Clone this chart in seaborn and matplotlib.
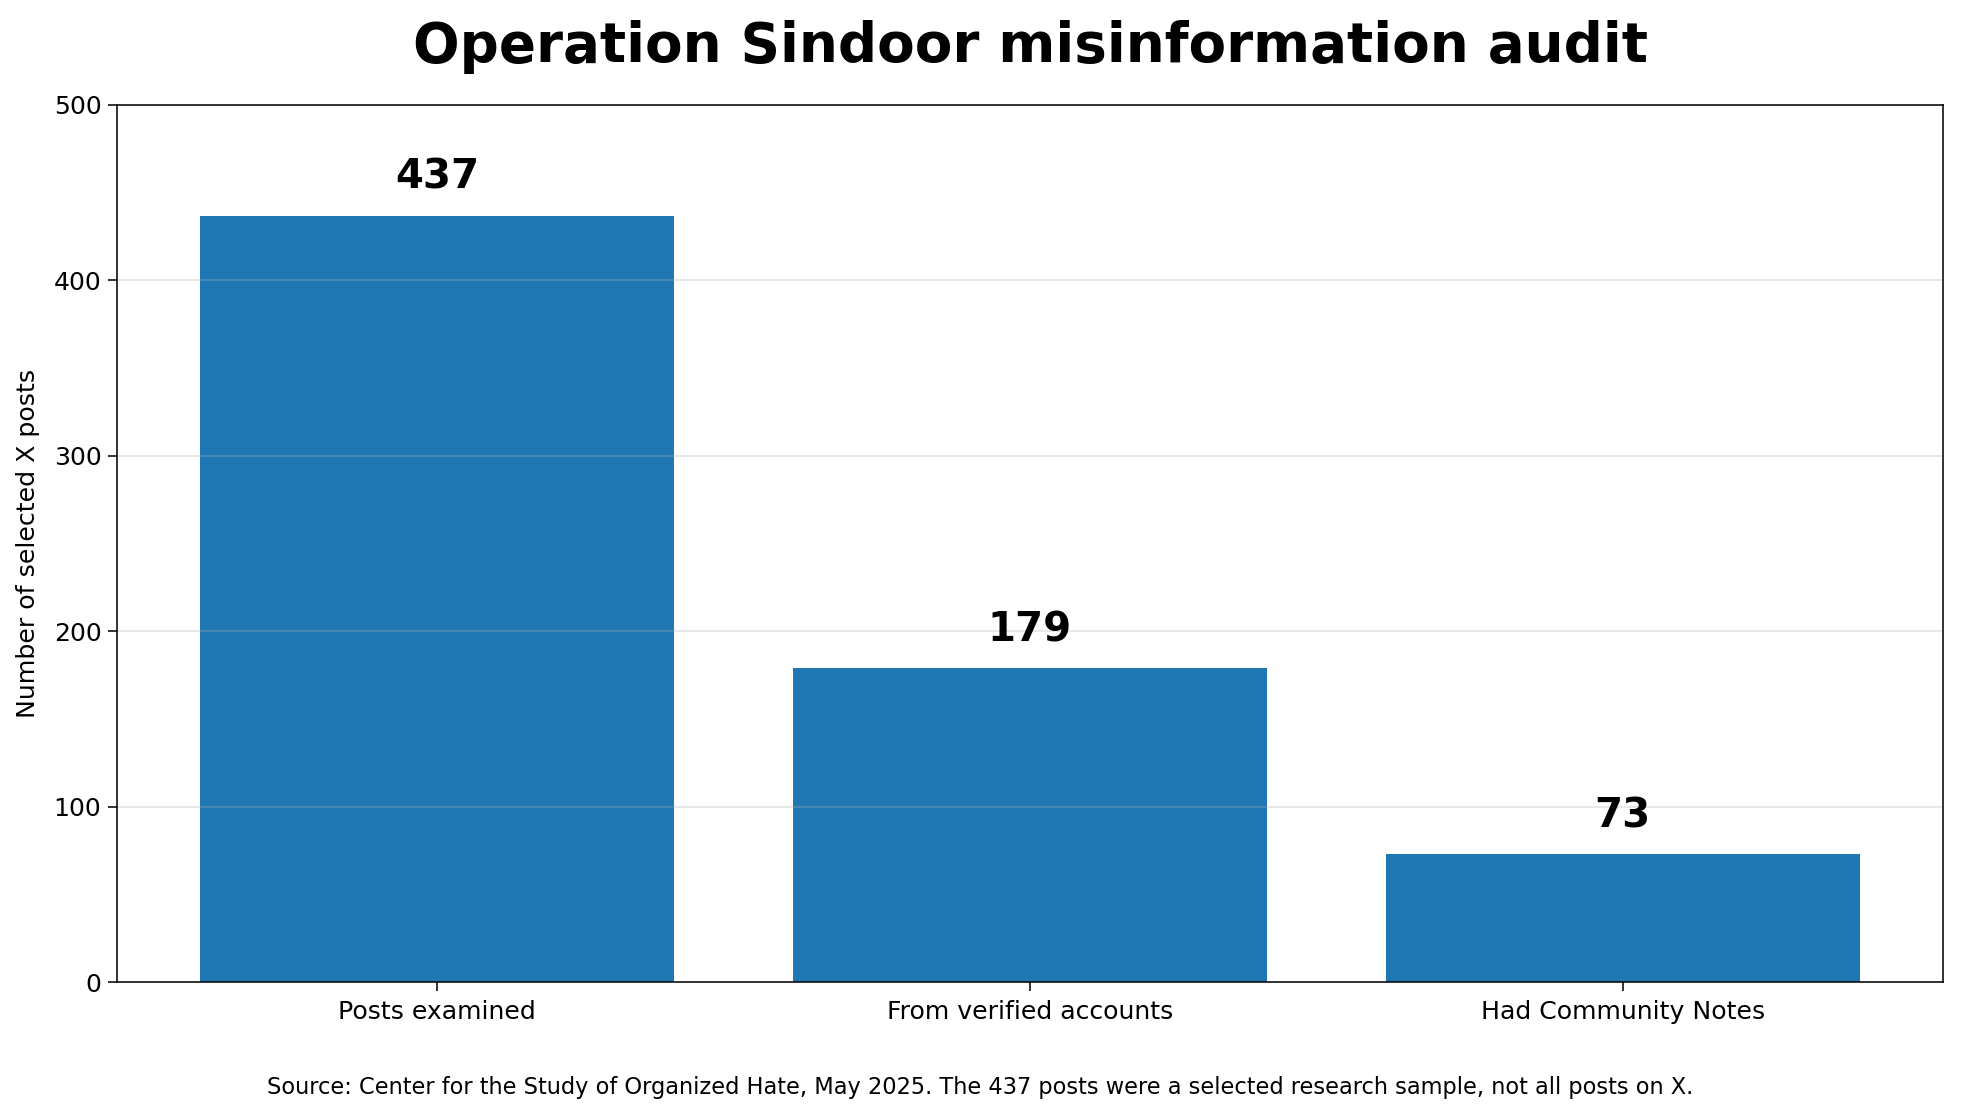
import matplotlib
matplotlib.use("Agg")
import matplotlib.pyplot as plt
import numpy as np
import pandas as pd
import seaborn as sns

categories = ["Posts examined", "From verified accounts", "Had Community Notes"]
post_counts = [437, 179, 73]
y_ticks = [0, 100, 200, 300, 400, 500]

title = "Operation Sindoor misinformation audit"
y_label = "Number of selected X posts"
source_note = ("Source: Center for the Study of Organized Hate, May 2025. "
               "The 437 posts were a selected research sample, not all posts on X.")

df = pd.DataFrame({"category": categories, "posts": post_counts})

fig = plt.figure(figsize=(1961 / 140, 1119 / 140), dpi=140)
ax = fig.add_axes([117 / 1961, 1 - 982 / 1119, (1943 - 117) / 1961, (982 - 105) / 1119])

sns.barplot(data=df, x="category", y="posts", color="#1f77b4", saturation=1,
            width=0.8, ax=ax)

# value labels above the bars
for i, v in enumerate(post_counts):
    ax.text(i, v + 10, str(v), ha="center", va="bottom",
            fontsize=20.7, fontweight="bold")

ax.set_xlim(-0.54, 2.54)
ax.set_ylim(0, 500)
ax.set_yticks(y_ticks)
ax.grid(axis="y", color="#b0b0b0", alpha=0.3, linewidth=1)
ax.tick_params(axis="both", labelsize=12.9, length=4.5)
ax.tick_params(axis="x", pad=4.8)
ax.set_xlabel("")
ax.set_ylabel(y_label, fontsize=13, labelpad=7)
ax.set_title(title, fontsize=28.2, fontweight="bold", pad=22)

fig.text(0.5, 0.028, source_note, ha="center", va="center", fontsize=11.6)

fig.savefig("out.png", dpi=140)
